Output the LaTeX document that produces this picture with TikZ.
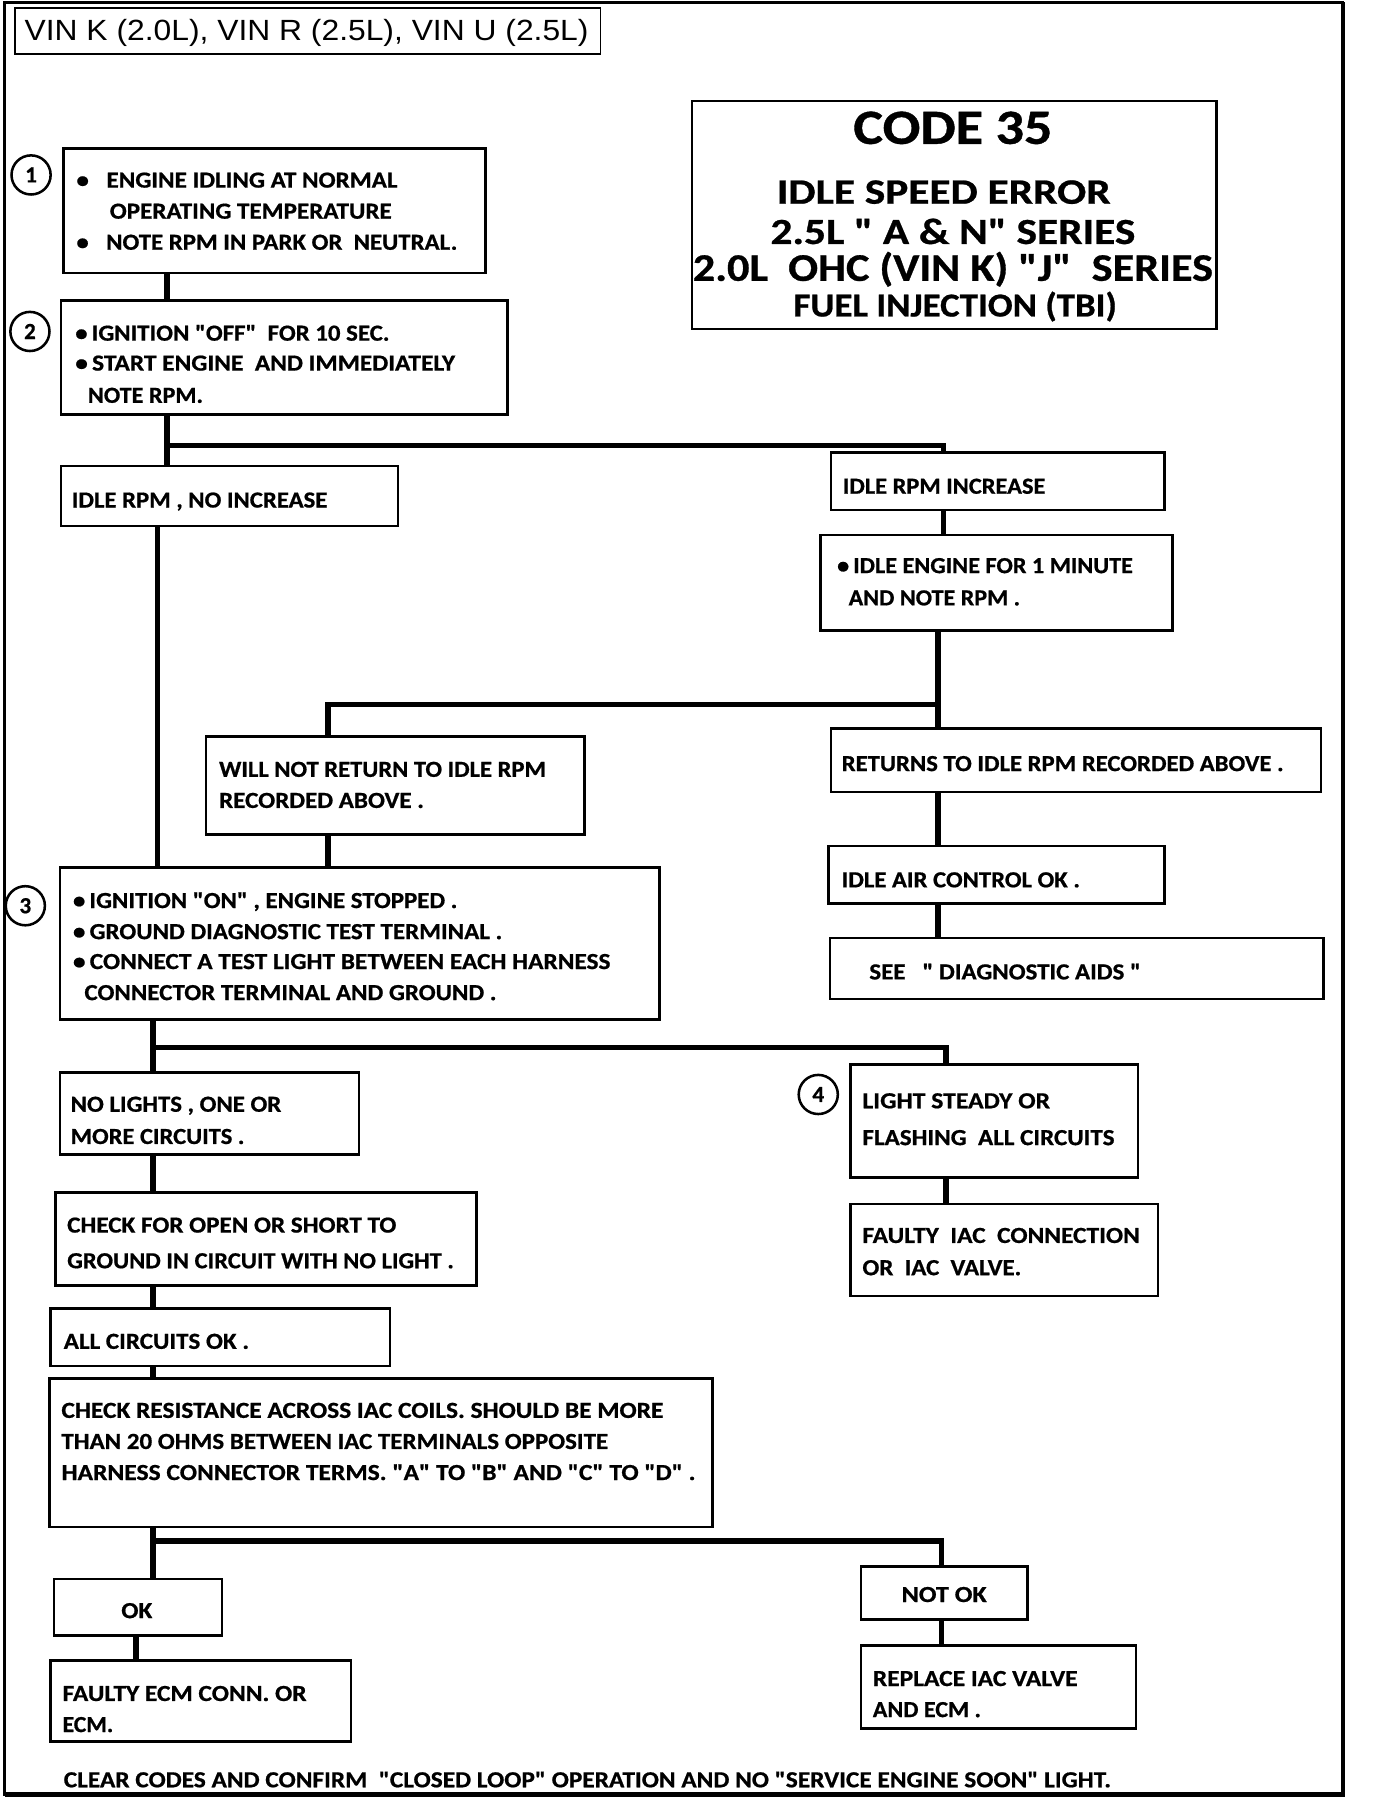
\documentclass[tikz,border=0pt]{standalone}
\usepackage{fontspec}
\usepackage{graphicx}
\setmainfont{Carlito}[Ligatures=TeXOff, BoldFeatures={FakeBold=0.7}]
\newfontfamily\arialf{Liberation Sans}
\usetikzlibrary{fit}
\newcommand\fw[2]{\resizebox{#1}{\height}{#2}}
\tikzset{
  box/.style={draw, line width=1.1pt, inner sep=0pt, rectangle},
  conn/.style={line width=2.4pt},
  txt/.style={anchor=base west, inner sep=0pt, font=\fontsize{10}{11}\selectfont\bfseries},
  htxt/.style={anchor=base, inner sep=0pt},
  num/.style={draw, circle, line width=1.1pt, minimum size=17pt, inner sep=0pt, font=\fontsize{10}{11}\selectfont\bfseries}
}
\newcommand\tx[5]{\node[txt] (#1) at (#2,#3) {\fw{#4pt}{#5}};}
\begin{document}
\begin{tikzpicture}[x=0.5pt,y=-0.5pt]
\useasboundingbox (0,0) rectangle (1196,1571);
% outer frame
\draw[line width=1.2pt] (4,2) rectangle (1167,1559);
\draw[line width=2pt] (4,1559) -- (1167,1559) -- (1167,2);
% title
\node[draw, line width=0.6pt, inner sep=0pt, fit={(13,7)(522,47)}] (title) {};
\node[anchor=base west, inner sep=0pt, font=\arialf\fontsize{12.7}{14}\selectfont] (titletext) at (21,35) {\fw{245pt}{VIN K (2.0L), VIN R (2.5L), VIN U (2.5L)}};
% header
\node[box, line width=0.9pt, fit={(601,88)(1057,286)}] (hdr) {};
\node[htxt, font=\fontsize{21.4}{24}\selectfont\bfseries] (h1) at (828,125) {\fw{86.5pt}{CODE 35}};
\node[htxt, font=\fontsize{15.5}{18}\selectfont\bfseries] (h2) at (820,177) {\fw{145pt}{IDLE SPEED ERROR}};
\node[htxt, font=\fontsize{16}{18}\selectfont\bfseries] (h3) at (828,212) {\fw{158.5pt}{2.5L\ " A \& N" SERIES}};
\node[htxt, font=\fontsize{17}{19}\selectfont\bfseries] (h4) at (828,244) {\fw{226pt}{2.0L\ \ OHC (VIN K) "J"\ \ SERIES}};
\node[htxt, font=\fontsize{14.6}{17}\selectfont\bfseries] (h5) at (830,275) {\fw{140.5pt}{FUEL INJECTION (TBI)}};
% boxes
\node[box, fit={(55,129)(422,237)}] (b1) {};
\node[box, fit={(53,261)(441,360)}] (b2) {};
\node[box, fit={(53,405)(346,457)}] (noinc) {};
\node[box, fit={(722,393)(1012,443)}] (inc) {};
\node[box, fit={(713,465)(1019,548)}] (idle) {};
\node[box, fit={(179,640)(508,725)}] (willnot) {};
\node[box, fit={(722,633)(1148,688)}] (returns) {};
\node[box, fit={(720,735)(1012,785)}] (airok) {};
\node[box, fit={(721,815)(1150,868)}] (seediag) {};
\node[box, fit={(52,754)(573,886)}] (b3) {};
\node[box, fit={(52,932)(312,1003)}] (nolights) {};
\node[box, fit={(48,1036)(414,1117)}] (checkopen) {};
\node[box, fit={(44,1137)(339,1187)}] (allok) {};
\node[box, fit={(43,1198)(619,1327)}] (checkres) {};
\node[box, fit={(47,1372)(193,1421)}] (okb) {};
\node[box, fit={(44,1443)(305,1513)}] (faultyecm) {};
\node[box, fit={(748,1361)(893,1407)}] (notok) {};
\node[box, fit={(748,1430)(987,1502)}] (replace) {};
\node[box, fit={(739,925)(989,1023)}] (lightsteady) {};
\node[box, fit={(739,1046)(1006,1126)}] (faultyiac) {};
% step numbers
\node[num] (c1) at (27,152) {1};
\node[num] (c2) at (26,288) {2};
\node[num] (c3) at (22,787) {3};
\node[num] (c4) at (711,951) {4};
% texts
\tx{t1a}{66}{163}{139.5}{\textbullet\hspace{7pt}ENGINE IDLING AT NORMAL}
\tx{t1b}{95}{190}{122.5}{OPERATING TEMPERATURE}
\tx{t1c}{66}{217}{165.5}{\textbullet\hspace{7pt}NOTE RPM IN PARK OR\ \ NEUTRAL.}
\tx{t2a}{65}{296}{136.5}{\textbullet\,IGNITION "OFF"\ \ FOR 10 SEC.}
\tx{t2b}{65}{322}{165}{\textbullet\,START ENGINE\ \ AND IMMEDIATELY}
\tx{t2c}{76}{350}{50}{NOTE RPM.}
\tx{t3}{62}{441}{111}{IDLE RPM , NO INCREASE}
\tx{t4}{732}{429}{88}{IDLE RPM INCREASE}
\tx{t5a}{727}{498}{128.5}{\textbullet\,IDLE ENGINE FOR 1 MINUTE}
\tx{t5b}{737}{526}{74.5}{AND NOTE RPM .}
\tx{t6a}{190}{675}{142}{WILL NOT RETURN TO IDLE RPM}
\tx{t6b}{190}{702}{89}{RECORDED ABOVE .}
\tx{t7}{731}{670}{192}{RETURNS TO IDLE RPM RECORDED ABOVE .}
\tx{t8}{731}{771}{103.5}{IDLE AIR CONTROL OK .}
\tx{t9}{755}{851}{118}{SEE\ \ \ " DIAGNOSTIC AIDS "}
\tx{t10a}{63}{789}{167}{\textbullet\,IGNITION "ON" , ENGINE STOPPED .}
\tx{t10b}{63}{816}{186.5}{\textbullet\,GROUND DIAGNOSTIC TEST TERMINAL .}
\tx{t10c}{63}{842}{233.5}{\textbullet\,CONNECT A TEST LIGHT BETWEEN EACH HARNESS}
\tx{t10d}{73}{869}{179}{CONNECTOR TERMINAL AND GROUND .}
\tx{t11a}{61}{966}{91.5}{NO LIGHTS , ONE OR}
\tx{t11b}{61}{994}{75.5}{MORE CIRCUITS .}
\tx{t12a}{58}{1071}{143}{CHECK FOR OPEN OR SHORT TO}
\tx{t12b}{58}{1102}{168}{GROUND IN CIRCUIT WITH NO LIGHT .}
\tx{t13}{55}{1172}{80.5}{ALL CIRCUITS OK .}
\tx{t14a}{53}{1232}{261.5}{CHECK RESISTANCE ACROSS IAC COILS. SHOULD BE MORE}
\tx{t14b}{53}{1259}{237.5}{THAN 20 OHMS BETWEEN IAC TERMINALS OPPOSITE}
\tx{t14c}{53}{1286}{275.5}{HARNESS CONNECTOR TERMS. "A" TO "B" AND "C" TO "D" .}
\tx{t15}{105}{1406}{13.5}{OK}
\tx{t16a}{54}{1478}{106}{FAULTY ECM CONN. OR}
\tx{t16b}{54}{1505}{22}{ECM.}
\tx{t17}{783}{1392}{37}{NOT OK}
\tx{t18a}{758}{1465}{89}{REPLACE IAC VALVE}
\tx{t18b}{758}{1492}{47}{AND ECM .}
\tx{t19a}{749}{963}{81.5}{LIGHT STEADY OR}
\tx{t19b}{749}{995}{109.5}{FLASHING\ \ ALL CIRCUITS}
\tx{t20a}{749}{1080}{120.5}{FAULTY\ \ IAC\ \ CONNECTION}
\tx{t20b}{749}{1108}{69}{OR\ \ IAC\ \ VALVE.}
\tx{foot}{55}{1553}{455}{CLEAR CODES AND CONFIRM\ \ "CLOSED LOOP" OPERATION AND NO "SERVICE ENGINE SOON" LIGHT.}
% junctions
\coordinate (ja) at (145,387);
\coordinate (jb) at (815,612);
\coordinate (jc) at (133,910);
\coordinate (jd) at (133,1339);
\coordinate (xa) at (137,0);
\coordinate (xb) at (285,0);
\coordinate (xc) at (820,0);
\coordinate (xd) at (822,0);
\coordinate (xe) at (818,0);
\coordinate (xf) at (118,0);
\coordinate (xg) at (145,0);
% connectors
\draw[conn] (b1.south -| xg) -- (b2.north -| xg);
\draw[conn] (b2.south -| ja) -- (noinc.north -| ja);
\draw[conn] (ja) -- (ja -| xc) -- (inc.north -| xc);
\draw[conn] (noinc.south -| xa) -- (b3.north -| xa);
\draw[conn] (inc.south -| xc) -- (idle.north -| xc);
\draw[conn] (idle.south -| jb) -- (returns.north -| jb);
\draw[conn] (jb) -- (jb -| xb) -- (willnot.north -| xb);
\draw[conn] (willnot.south -| xb) -- (b3.north -| xb);
\draw[conn] (returns.south -| jb) -- (airok.north -| jb);
\draw[conn] (airok.south -| jb) -- (seediag.north -| jb);
\draw[conn] (b3.south -| jc) -- (nolights.north -| jc);
\draw[conn] (jc) -- (jc -| xd) -- (lightsteady.north -| xd);
\draw[conn] (nolights.south -| jc) -- (checkopen.north -| jc);
\draw[conn] (checkopen.south -| jc) -- (allok.north -| jc);
\draw[conn] (allok.south -| jc) -- (checkres.north -| jc);
\draw[conn] (checkres.south -| jd) -- (okb.north -| jd);
\draw[conn] (jd) -- (jd -| xe) -- (notok.north -| xe);
\draw[conn] (okb.south -| xf) -- (faultyecm.north -| xf);
\draw[conn] (notok.south -| xe) -- (replace.north -| xe);
\draw[conn] (lightsteady.south -| xd) -- (faultyiac.north -| xd);
\end{tikzpicture}
\end{document}
